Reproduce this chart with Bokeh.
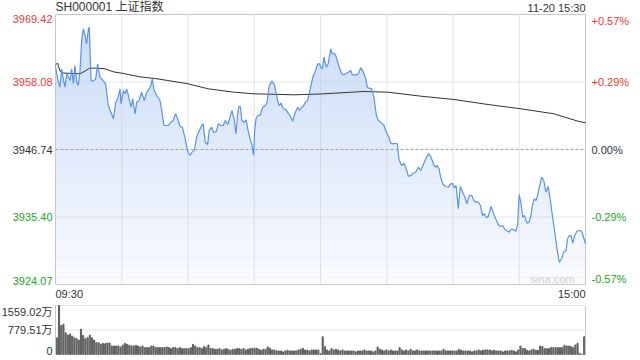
from bokeh.plotting import figure
from bokeh.models import Label, Range1d
from bokeh.layouts import column
from bokeh.embed import file_html
from bokeh.resources import INLINE
import numpy as np

# ---------------- data ----------------
title_text = "SH000001 上证指数"
date_text = "11-20 15:30"
time_labels = ["09:30", "15:00"]

price_ticks = [3969.42, 3958.08, 3946.74, 3935.40, 3924.07]
pct_ticks = ["+0.57%", "+0.29%", "0.00%", "-0.29%", "-0.57%"]
vol_ticks = [1559.02, 779.51, 0]
vol_tick_labels = ["1559.02万", "779.51万", "0"]
grid_minutes = [30, 60, 90, 120, 150, 180, 210]

# minute offsets from 09:30 (lunch break removed) and index level
minutes = [
    0, 1.3, 2.0, 2.8, 3.5, 4.3, 5.1, 6.6, 7.3, 8.1,
    8.8, 9.6, 10.3, 11.1, 11.9, 12.6, 13.4, 14.1, 14.9, 15.3,
    16.1, 17.1, 18.2, 19.1, 20.1, 21.6, 22.7, 23.9, 25.1, 26.2,
    27.3, 28.4, 29.2, 29.7, 30.7, 31.5, 32.2, 33.0, 34.2, 35.0,
    36.0, 36.8, 37.8, 39.0, 40.2, 41.3, 42.0, 43.2, 43.8, 44.7,
    45.8, 47.3, 48.1, 49.1, 51.1, 52.3, 53.3, 54.4, 55.3, 56.4,
    57.4, 58.6, 59.4, 60.1, 60.9,
    62.1, 62.9, 63.9, 65.1, 66.3, 66.9, 67.8, 68.9, 69.6, 70.7,
    71.5, 72.7, 73.7, 74.9, 76.0, 76.9, 78.0, 79.0, 79.9, 81.0,
    81.7, 82.5, 83.0, 83.7, 84.4, 85.5, 86.3, 87.2, 88.1, 89.0,
    89.7, 90.2, 90.8, 91.6, 92.6, 93.8, 95.0, 95.8, 96.8, 98.0,
    99.1, 99.8, 101.1, 102.1, 103.2, 104.4, 105.6, 106.6, 107.4, 108.6,
    109.7, 110.4, 111.2, 112.2, 113.1, 114.2, 115.2, 116.5, 117.2, 118.0,
    118.7, 119.5, 120.2,
    120.8, 121.6, 122.6, 123.5, 124.6, 125.3, 126.1, 126.9, 127.6, 128.7,
    129.6, 130.6, 131.7, 132.6, 133.7, 134.4, 135.6, 136.7, 137.4, 138.2,
    138.9, 139.7, 140.5, 141.2, 142.0, 143.2, 144.2, 145.3, 146.2, 147.3,
    148.0, 148.8, 149.5, 150.2, 151.0, 151.8, 152.8, 154.0, 154.8, 155.5,
    156.3, 157.0, 157.8, 158.6, 159.3, 159.8, 160.8, 161.9, 163.1, 164.3,
    165.4, 166.4, 167.3, 168.4, 169.1, 169.9, 170.6, 171.4, 172.2, 172.9,
    173.7, 174.4, 175.5, 176.7, 177.9,
    179.1, 179.9, 180.6, 181.4, 182.4, 183.3, 184.4, 185.4, 186.3, 187.4,
    188.5, 189.4, 190.4, 191.5, 192.4, 193.4, 194.2, 195.3, 196.0, 197.2,
    198.4, 199.5, 200.5, 201.4, 202.5, 203.5, 204.8, 205.5, 206.6, 207.5,
    208.5, 209.3, 210.0, 210.8, 211.6, 212.3, 213.5, 214.5, 215.3, 216.1,
    216.8, 217.6, 218.3, 219.1, 220.2, 221.1, 222.1, 223.1, 224.1, 225.1,
    226.2, 227.1, 228.1, 229.2, 230.1, 231.2, 231.9, 232.7, 233.4, 234.2,
    235.2, 236.1, 237.2, 238.3, 240,
]
prices = [
    3960.70, 3958.05, 3957.21, 3960.30, 3958.62, 3957.21, 3959.46, 3958.33, 3960.30, 3957.78,
    3960.85, 3958.05, 3957.49, 3960.01, 3965.34, 3967.02, 3965.89, 3964.50, 3967.02, 3967.29,
    3958.33, 3958.22, 3958.62, 3961.14, 3958.89, 3958.33, 3957.78, 3954.14, 3953.01, 3951.90,
    3954.69, 3955.53, 3956.94, 3954.42, 3956.65, 3956.10, 3956.94, 3955.82, 3953.85, 3955.26,
    3952.74, 3954.69, 3954.98, 3956.37, 3954.98, 3956.37, 3956.65, 3957.49, 3958.62, 3956.65,
    3955.82, 3954.98, 3953.30, 3950.78, 3950.78, 3951.33, 3951.62, 3952.74, 3951.90, 3950.61,
    3950.49, 3948.81, 3947.13, 3946.29, 3945.74,
    3946.46, 3946.58, 3948.81, 3949.94, 3950.78, 3951.06, 3947.97, 3947.59, 3949.94, 3950.49,
    3949.65, 3949.65, 3951.06, 3950.78, 3950.78, 3951.62, 3950.94, 3952.17, 3953.30, 3951.62,
    3949.38, 3952.74, 3953.97, 3953.97, 3951.62, 3951.33, 3951.73, 3949.94, 3948.54, 3947.42,
    3945.74, 3949.94, 3951.90, 3952.46, 3952.46, 3953.85, 3954.14, 3954.69, 3957.49, 3958.22,
    3957.66, 3956.37, 3954.14, 3954.52, 3953.58, 3953.41, 3952.74, 3952.17, 3951.50, 3953.01,
    3953.85, 3953.30, 3953.75, 3953.97, 3954.69, 3954.98, 3956.65, 3958.89, 3959.46, 3960.30,
    3961.14, 3961.14, 3960.57,
    3960.30, 3962.25, 3960.57, 3961.14, 3963.66, 3962.82, 3962.92, 3962.53, 3961.69, 3960.30,
    3959.46, 3959.29, 3959.56, 3959.73, 3960.01, 3959.29, 3959.29, 3959.29, 3959.73, 3960.47,
    3960.13, 3959.46, 3958.62, 3957.21, 3957.04, 3956.94, 3955.53, 3952.46, 3951.62, 3951.33,
    3951.06, 3950.78, 3949.94, 3949.38, 3948.81, 3947.80, 3947.70, 3947.80, 3947.70, 3945.18,
    3944.34, 3944.06, 3944.44, 3943.77, 3942.93, 3942.21, 3942.38, 3942.76, 3942.93, 3943.77,
    3943.22, 3944.06, 3944.90, 3945.74, 3946.02, 3945.57, 3944.90, 3944.06, 3943.77, 3944.06,
    3943.50, 3942.09, 3940.87, 3940.53, 3940.41,
    3941.03, 3940.98, 3940.31, 3940.70, 3936.79, 3940.53, 3939.57, 3938.73, 3937.62, 3939.02,
    3939.02, 3938.18, 3937.89, 3937.89, 3937.34, 3935.66, 3935.95, 3935.27, 3935.49, 3937.17,
    3935.95, 3934.94, 3934.15, 3933.81, 3933.98, 3933.26, 3933.02, 3932.86, 3933.43, 3933.26,
    3933.02, 3934.27, 3939.19, 3937.62, 3935.37, 3935.66, 3934.37, 3934.54, 3935.66, 3937.62,
    3938.46, 3938.18, 3939.02, 3940.41, 3942.09, 3941.54, 3939.57, 3940.53, 3938.18, 3935.37,
    3932.59, 3930.07, 3927.82, 3928.39, 3929.50, 3929.78, 3931.75, 3932.30, 3932.30, 3931.01,
    3932.30, 3933.02, 3933.14, 3933.02, 3930.91,
]

avg_minutes = [0, 1.0, 2.0, 3.2, 11.1, 13.4, 15.6, 18.8, 22.4, 26.5, 30.1, 38.7, 45.1, 50.9,
               60.0, 69.1, 80.8, 89.9, 108.0, 120.2, 139.7, 150.6, 165.5, 180.5, 195.9,
               210.8, 225.7, 236.6, 240]
avg_prices = [3961.00, 3961.24, 3959.93, 3959.59, 3959.46, 3959.93, 3960.43, 3960.40, 3960.30,
              3959.76, 3959.56, 3958.92, 3958.67, 3958.33, 3957.78, 3956.94, 3956.37, 3956.10,
              3955.93, 3956.07, 3956.49, 3956.37, 3955.70, 3955.14, 3954.30, 3953.58, 3952.74,
              3951.50, 3951.23]

# volume per minute (万)
volumes = [
    533, 1559, 920, 963, 690, 617, 649, 586, 533, 502,
    460, 805, 607, 502, 533, 617, 533, 460, 377, 377,
    324, 356, 345, 366, 366, 272, 272, 272, 272, 240,
    303, 356, 324, 293, 272, 272, 293, 272, 240, 272,
    220, 220, 220, 272, 272, 220, 220, 220, 220, 220,
    240, 220, 188, 220, 220, 188, 220, 188, 188, 188,
    188, 220, 324, 272, 220, 220, 188, 251, 220, 303,
    188, 188, 167, 167, 188, 146, 167, 188, 167, 136,
    167, 167, 188, 188, 167, 188, 146, 167, 188, 198,
    199, 199, 167, 136, 167, 167, 241, 199, 146, 146,
    115, 115, 115, 84, 115, 136, 115, 115, 115, 115,
    146, 167, 199, 146, 136, 115, 146, 146, 146, 146,
    31, 565,
    251, 146, 115, 188, 146, 167, 146, 115, 146, 115,
    115, 115, 115, 115, 84, 115, 115, 115, 146, 115,
    115, 115, 84, 115, 241, 167, 146, 115, 146, 115,
    146, 115, 115, 115, 220, 146, 115, 146, 115, 167,
    115, 115, 146, 115, 115, 115, 115, 115, 115, 115,
    115, 115, 115, 115, 167, 115, 115, 115,
    115, 115, 115, 167, 136, 115, 115, 115, 115, 84,
    115, 115, 146, 115, 136, 146, 146, 146, 115, 136,
    115, 115, 115, 84, 115, 115, 115, 136, 115, 84,
    146, 272, 188, 188, 136, 115, 146, 167, 136, 136,
    272, 251, 188, 188, 188, 220, 220, 220, 220, 220,
    220, 293, 272, 272, 251, 220, 303, 356, 31, 0,
    565,
]
vol_minutes = list(range(len(volumes)))

# ---------------- styles ----------------
FONT = "Liberation Sans, Noto Sans CJK SC"
RED = "#f03a32"
GREEN = "#23a523"
DARK = "#333333"
GRID = "#c8c8c8"
BORDER = "#c8c8c8"
LINE_BLUE = "#5a93ea"

PMIN, PMAX = price_ticks[-1], price_ticks[0]
TMIN, TMAX = 0, 240

# page layout (pixels): the frame fills the whole canvas, the ranges are padded
W, H = 640, 300
ML, MR, MT, MB = 55, 55, 14, 16
xs = (TMAX - TMIN) / (W - ML - MR)
ys = (PMAX - PMIN) / (H - MT - MB)

p = figure(width=W, height=H,
           x_range=Range1d(TMIN - ML * xs, TMAX + MR * xs),
           y_range=Range1d(PMIN - MB * ys, PMAX + MT * ys),
           output_backend="svg", toolbar_location=None, x_axis_type=None, y_axis_type=None,
           min_border=0)
p.outline_line_color = None
p.background_fill_color = "white"
p.border_fill_color = "white"

# area fill with vertical fade
p.varea(x=minutes, y1=PMIN, y2=prices, fill_color="#c9dbf6")
nb = 40
edges = np.linspace(PMAX, PMIN, nb + 1)
alphas = [0.9 * (k + 0.5) / nb for k in range(nb)]
p.quad(left=TMIN, right=TMAX, top=edges[:-1], bottom=edges[1:], fill_color="white",
       fill_alpha=alphas, line_color=None)

# grid lines
hg = [price_ticks[1], price_ticks[3]]
p.segment(x0=TMIN, x1=TMAX, y0=hg, y1=hg, line_color=GRID, line_dash="1 1", line_width=1)
p.segment(x0=TMIN, x1=TMAX, y0=[price_ticks[2]], y1=[price_ticks[2]], line_color="#a0a0a0",
          line_dash="3 2", line_width=1)
p.segment(x0=grid_minutes, x1=grid_minutes, y0=PMIN, y1=PMAX, line_color=GRID,
          line_dash="1 1", line_width=1)
p.quad(left=TMIN, right=TMAX, bottom=PMIN, top=PMAX, fill_color=None, line_color=BORDER,
       line_width=1)

p.line(avg_minutes, avg_prices, line_color="#333333", line_width=1)
p.line(minutes, prices, line_color=LINE_BLUE, line_width=1.2)

colors = [RED, RED, DARK, GREEN, GREEN]
baselines = ["top", "middle", "middle", "middle", "bottom"]
for t, pc, c, b in zip(price_ticks, pct_ticks, colors, baselines):
    p.add_layout(Label(x=TMIN, y=t, text=f"{t:.2f}", x_offset=-3, text_align="right",
                       text_baseline=b, text_color=c, text_font=FONT, text_font_size="11px"))
    p.add_layout(Label(x=TMAX, y=t, text=pc, x_offset=6, text_align="left",
                       text_baseline=b, text_color=c, text_font=FONT, text_font_size="11px"))

p.add_layout(Label(x=TMIN, y=PMAX, text=title_text, y_offset=1, text_align="left",
                   text_baseline="bottom", text_color=DARK, text_font=FONT, text_font_size="12px"))
p.add_layout(Label(x=TMAX, y=PMAX, text=date_text, y_offset=1, text_align="right",
                   text_baseline="bottom", text_color=DARK, text_font=FONT, text_font_size="11px"))
p.add_layout(Label(x=TMIN, y=PMIN, text=time_labels[0], y_offset=-3, text_align="left",
                   text_baseline="top", text_color=DARK, text_font=FONT, text_font_size="11px"))
p.add_layout(Label(x=TMAX, y=PMIN, text=time_labels[1], y_offset=-3, text_align="right",
                   text_baseline="top", text_color=DARK, text_font=FONT, text_font_size="11px"))
p.add_layout(Label(x=TMAX, y=PMIN, text="sina.com", x_offset=-11, y_offset=0, text_align="right",
                   text_baseline="bottom", text_color="#cfcfcf", text_font=FONT,
                   text_font_size="11px"))

# ---------------- volume panel ----------------
H2 = 60
MT2, MB2 = 5, 6
VX0, VX1 = -0.6, 240.6
vxs = (VX1 - VX0) / (W - ML - MR)
vys = vol_ticks[0] / (H2 - MT2 - MB2)
v = figure(width=W, height=H2,
           x_range=Range1d(VX0 - ML * vxs, VX1 + MR * vxs),
           y_range=Range1d(0 - MB2 * vys, vol_ticks[0] + MT2 * vys),
           output_backend="svg", toolbar_location=None, x_axis_type=None, y_axis_type=None,
           min_border=0)
v.outline_line_color = None
v.background_fill_color = "white"
v.border_fill_color = "white"
vg = [vol_ticks[0], vol_ticks[1]]
v.segment(x0=VX0, x1=VX1, y0=vg, y1=vg, line_color=GRID, line_dash="1 1", line_width=1)
v.vbar(x=vol_minutes, top=volumes, width=0.5, color="#606060")
v.segment(x0=[VX0, VX1], x1=[VX0, VX1], y0=0, y1=vol_ticks[0], line_color=BORDER,
          line_width=1)
vb = ["top", "middle", "bottom"]
for t, lab, b in zip(vol_ticks, vol_tick_labels, vb):
    v.add_layout(Label(x=VX0, y=t, text=lab, x_offset=-3, text_align="right",
                       text_baseline=b, text_color=DARK, text_font=FONT, text_font_size="11px"))

layout = column(p, v, spacing=0)
open("out.html", "w").write(file_html(layout, INLINE))
